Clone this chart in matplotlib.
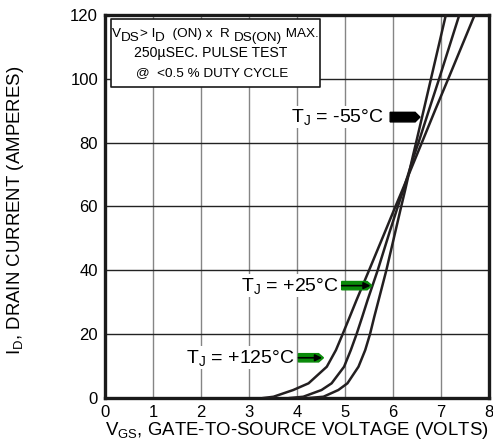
import numpy as np
import matplotlib.pyplot as plt
from matplotlib.patches import FancyArrow
from matplotlib.transforms import offset_copy

plt.rcParams['font.family'] = ['Liberation Sans', 'DejaVu Sans']
plt.rcParams['mathtext.fontset'] = 'custom'
plt.rcParams['mathtext.rm'] = 'Liberation Sans'
plt.rcParams['mathtext.it'] = 'Liberation Sans'

# values (V_GS in volts, I_D in amperes)
vgs_125 = [3.3, 3.51, 3.92, 4.24, 4.62, 4.81, 4.95, 5.1, 5.24, 5.5, 5.82,
           6.05, 6.19, 6.48, 6.6, 6.88, 7.15, 7.7]
id_125 = [0, 0.4, 2.5, 4.6, 9.8, 15, 20, 25.5, 30.7, 40, 51.6,
          60, 65, 75.6, 80, 90.3, 100, 120]

vgs_25 = [3.85, 4.13, 4.51, 4.72, 4.98, 5.12, 5.24, 5.36, 5.47, 5.68, 5.92,
          6.1, 6.21, 6.43, 6.53, 6.75, 6.96, 7.38]
id_25 = [0, 0.4, 2.5, 4.6, 9.8, 15, 20, 25.5, 30.7, 40, 51.6,
         60, 65, 75.6, 80, 90.3, 100, 120]

vgs_m55 = [4.25, 4.55, 4.86, 5.05, 5.28, 5.42, 5.52, 5.61, 5.7, 5.86, 6.04,
           6.17, 6.25, 6.41, 6.48, 6.64, 6.79, 7.1]
id_m55 = [0, 0.4, 2.5, 4.6, 9.8, 15, 20, 25.5, 30.7, 40, 51.6,
          60, 65, 75.6, 80, 90.3, 100, 120]

x_ticks = [0, 1, 2, 3, 4, 5, 6, 7, 8]
y_ticks = [0, 20, 40, 60, 80, 100, 120]

# curve labels: text, text right end, arrow start, arrow end, y, arrow colour
labels = [
    ("$\\mathregular{T_J}$ = -55°C", 5.82, 5.94, 6.56, 88, 'black'),
    ("$\\mathregular{T_J}$ = +25°C", 4.88, 4.93, 5.56, 35.2, '#0a8a0a'),
    ("$\\mathregular{T_J}$ = +125°C", 3.95, 4.03, 4.55, 12.6, '#0a8a0a'),
]

# first line of the test condition box, (text, vertical shift in points)
cond_parts = [("V", 0), ("DS", -3.2), ("> I", 0), ("D", -3.2), ("  (ON) x  R ", 0),
              ("DS(ON)", -3.2), (" MAX.", 0)]


def chunk_text(ax, x, y, parts, size):
    fig = ax.figure
    r = fig.canvas.get_renderer()
    dx = 0
    for s, dy in parts:
        tr = offset_copy(ax.transData, fig=fig, x=dx, y=dy, units='points')
        t = ax.text(x, y, s, transform=tr, fontsize=size, ha='left',
                    va='baseline', zorder=5)
        dx += t.get_window_extent(r).width * 72 / fig.dpi


fig = plt.figure(figsize=(4.93, 4.48), dpi=100)
ax = fig.add_axes([0.213, 0.1116, 0.779, 0.855])

ax.set_xlim(0, 8)
ax.set_ylim(0, 120)
ax.set_xticks(x_ticks)
ax.set_yticks(y_ticks)
ax.tick_params(length=0, labelsize=12, pad=5)

for x in x_ticks[1:-1]:
    ax.axvline(x, color='#858585', lw=1.0, zorder=1)
for y in y_ticks[1:-1]:
    ax.axhline(y, color='#222222', lw=1.0, zorder=1)

for s in ax.spines.values():
    s.set_linewidth(2.4)
    s.set_color('#1a1a1a')

for vx, iy in [(vgs_125, id_125), (vgs_25, id_25), (vgs_m55, id_m55)]:
    ax.plot(vx, iy, color='#231f20', lw=1.8, zorder=3, solid_joinstyle='round')

for txt, tx, x0, x1, y, col in labels:
    ax.text(tx, y, txt, ha='right', va='center', fontsize=14,
            bbox=dict(facecolor='white', edgecolor='none', pad=1), zorder=4)
    h = 3.0 if col == 'black' else 2.6
    ax.add_patch(FancyArrow(x0, y, x1 - x0, 0, width=h, head_width=h,
                            head_length=0.1, length_includes_head=True,
                            color=col, zorder=5))
    if col != 'black':
        ax.annotate('', xy=(x1 - 0.03, y), xytext=(x0, y),
                    arrowprops=dict(arrowstyle='-|>', color='black', lw=1.2,
                                    mutation_scale=10, shrinkA=0, shrinkB=0),
                    zorder=6)

# test condition box
ax.fill_between([0.12, 4.47], 97.4, 118.7, facecolor='white', edgecolor='#1a1a1a',
                lw=1.2, zorder=4)
chunk_text(ax, 0.15, 113.2, cond_parts, 9.7)
ax.text(2.21, 106.8, "250µSEC. PULSE TEST", ha='center', va='baseline',
        fontsize=10.1, zorder=5)
ax.text(2.23, 100.9, "@  <0.5 % DUTY CYCLE", ha='center', va='baseline',
        fontsize=9.7, zorder=5)

ax.set_xlabel("$\\mathregular{V_{GS}}$, GATE-TO-SOURCE VOLTAGE (VOLTS)",
              fontsize=13.4, labelpad=0)
ax.set_ylabel("$\\mathregular{I_D}$, DRAIN CURRENT (AMPERES)", fontsize=13.4)
ax.yaxis.set_label_coords(-0.205, 0.49)

fig.savefig('out.png', dpi=100)
